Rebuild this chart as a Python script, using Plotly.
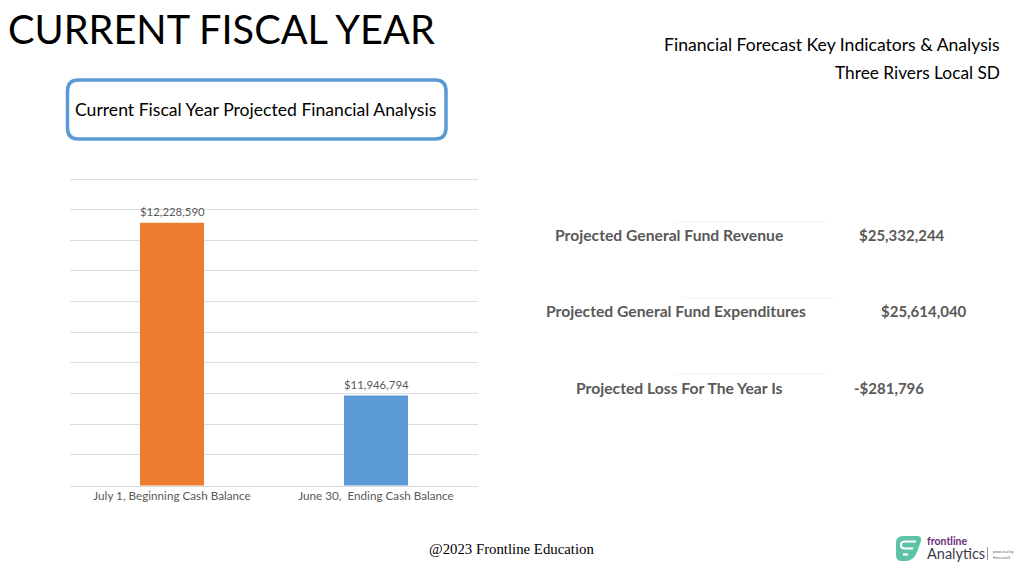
import plotly.graph_objects as go

categories = ['July 1, Beginning Cash Balance', 'June 30,\u00a0 Ending Cash Balance']
balances = [12228590, 11946794]
balance_labels = ['$12,228,590', '$11,946,794']
bar_colors = ['#ED7D31', '#5B9BD5']

summary_names = ['Projected General Fund Revenue', 'Projected General Fund Expenditures', 'Projected Loss For The Year Is']
summary_values = ['$25,332,244', '$25,614,040', '-$281,796']

W, H = 1024, 575


# annotations are placed in page pixels, y measured from the top
def label(text, x, y, size, color='#000000', anchor='left', family='Lato', bold=False):
    if bold:
        text = '<b>' + text + '</b>'
    return dict(text=text, x=x / W, y=1 - y / H, xref='paper', yref='paper', xanchor=anchor, yanchor='middle',
                showarrow=False, borderpad=0, align=anchor if anchor != 'center' else 'center',
                font=dict(family=family, size=size, color=color))


# path given as (command, x, y, x, y...) groups in page pixels
def pixel_path(parts, line_color, line_width, fill='rgba(0,0,0,0)'):
    out = []
    for part in parts:
        out.append(part[0])
        nums = part[1:]
        for i in range(0, len(nums), 2):
            out.append(f'{nums[i] / W} {1 - nums[i + 1] / H}')
    return dict(type='path', path=' '.join(out), xref='paper', yref='paper', fillcolor=fill,
                line=dict(color=line_color, width=line_width))


def box(x0, y0, x1, y1, r, line_color, line_width, fill='rgba(0,0,0,0)'):
    parts = [('M', x0 + r, y0), ('L', x1 - r, y0), ('Q', x1, y0, x1, y0 + r), ('L', x1, y1 - r),
             ('Q', x1, y1, x1 - r, y1), ('L', x0 + r, y1), ('Q', x0, y1, x0, y1 - r), ('L', x0, y0 + r),
             ('Q', x0, y0, x0 + r, y0), ('Z',)]
    return pixel_path(parts, line_color, line_width, fill)


def rule(x0, y0, x1, y1, color='#F2F2F2', width=1):
    return dict(type='line', x0=x0 / W, x1=x1 / W, y0=1 - y0 / H, y1=1 - y1 / H, xref='paper', yref='paper',
                line=dict(color=color, width=width))


fig = go.Figure(go.Bar(x=categories, y=balances, width=0.314, marker=dict(color=bar_colors, line=dict(width=0))))

annotations = [
    label('CURRENT FISCAL YEAR', 7, 29, 39.7),
    label('Financial Forecast Key Indicators &amp; Analysis', 1000.5, 44.5, 17.6, anchor='right'),
    label('Three Rivers Local SD', 1000.5, 73, 17.3, anchor='right'),
    label('Current Fiscal Year Projected Financial Analysis', 255.5, 109, 17.6, anchor='center'),
    label(summary_names[0], 669, 235, 15.7, '#595959', 'center', bold=True),
    label(summary_names[1], 676, 311, 15.7, '#595959', 'center', bold=True),
    label(summary_names[2], 679, 388, 15.7, '#595959', 'center', bold=True),
    label(summary_values[0], 902, 235, 15, '#595959', 'center', bold=True),
    label(summary_values[1], 924, 311, 15, '#595959', 'center', bold=True),
    label(summary_values[2], 889, 388, 15, '#595959', 'center', bold=True),
    label('@2023 Frontline Education', 511.5, 549, 14.8, anchor='center', family='Liberation Serif'),
    label('<b><span style="font-size:10.5px;color:#6B2C75">frontline</span></b><br>'
          '<span style="font-size:14.5px;color:#3C3C4C">Analytics</span>', 925.5, 548, 11),
    label('powered by', 992, 551, 4, '#666666'),
    label('Forecast5', 992, 557.5, 4, '#666666'),
]

# value labels sit just above each bar
for cat, val, txt in zip(categories, balances, balance_labels):
    annotations.append(dict(text=txt, x=cat, y=val, xref='x', yref='y', xanchor='center', yanchor='bottom', yshift=3.5,
                            showarrow=False, borderpad=0, font=dict(family='Lato', size=11.4, color='#595959')))

logo_blob = [('M', 903, 536), ('L', 917, 536), ('Q', 922, 536, 921, 541), ('L', 917, 552), ('Q', 914, 560, 907, 561),
             ('L', 902, 561), ('Q', 896, 561, 896, 555), ('L', 896, 543), ('Q', 896, 536, 903, 536), ('Z',)]
logo_swoosh = [('M', 916, 541.5), ('L', 905, 541.5), ('Q', 901, 541.5, 901, 545), ('Q', 901, 548.5, 905, 548.5),
               ('L', 913, 548.5)]

shapes = [
    box(67.5, 80, 446, 139, 11, '#5B9BD5', 3.5),
    rule(675, 222, 825, 222),
    rule(683, 298, 833, 298),
    rule(675, 374, 825, 374),
    pixel_path(logo_blob, '#5CC3A5', 0, fill='#5CC3A5'),
    pixel_path(logo_swoosh, '#FFFFFF', 2.2),
    rule(903, 554.5, 908, 554.5, '#FFFFFF', 2.2),
    rule(987.5, 547, 987.5, 560, '#999999'),
]

fig.update_layout(
    width=W, height=H, margin=dict(l=0, r=0, t=0, b=0), paper_bgcolor='white', plot_bgcolor='white',
    showlegend=False, annotations=annotations, shapes=shapes,
    xaxis=dict(domain=[70 / W, 478 / W], showgrid=False, showline=True, linecolor='#D9D9D9', linewidth=1,
               ticks='', ticklabelstandoff=-1, tickfont=dict(family='Lato', size=11.7, color='#595959')),
    yaxis=dict(domain=[1 - 485.5 / H, 1 - 154.5 / H], range=[11800000, 12340000], dtick=50000, tick0=11800000,
               showgrid=True, gridcolor='#DDDDDD', gridwidth=1, showticklabels=False, zeroline=False,
               showline=False, ticks=''),
)

fig.write_html("out.html", config=dict(displayModeBar=False), post_script="document.body.style.margin='0';")
